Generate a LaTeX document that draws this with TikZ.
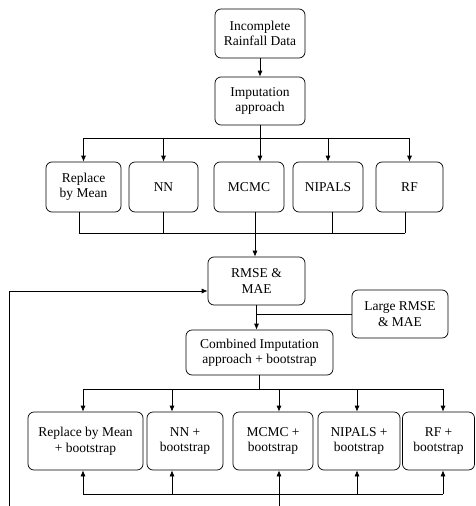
\documentclass[tikz,border=0pt]{standalone}
\usepackage{fontspec}
\setmainfont{Liberation Serif}
\usetikzlibrary{arrows.meta}

\begin{document}
\begin{tikzpicture}[x=1pt, y=-1pt, line width=0.7pt,
    box/.style={draw, rectangle, rounded corners=6pt, align=center, inner sep=2pt,
        font=\fontsize{13.5}{15.5}\selectfont},
    arr/.style={-{Latex[length=6pt,width=5pt]}}]
    \useasboundingbox (0,0) rectangle (475,506);
    % Nodes
    \node[box, minimum width=90pt, minimum height=49pt] (data) at (260,33.5) {Incomplete\\Rainfall Data};
    \node[box, minimum width=90pt, minimum height=48pt] (imp) at (260,101) {Imputation\\approach};

    \node[box, minimum width=75pt, minimum height=50pt] (mean) at (83.5,187) {Replace\\by Mean};
    \node[box, minimum width=69pt, minimum height=50pt] (nn) at (163.5,187) {NN};
    \node[box, minimum width=70pt, minimum height=50pt] (mcmc) at (249,187) {MCMC};
    \node[box, minimum width=70pt, minimum height=50pt] (nipals) at (328,187) {NIPALS};
    \node[box, minimum width=67pt, minimum height=50pt] (rf) at (409.5,187) {RF};

    \node[box, minimum width=97pt, minimum height=48pt] (rmse) at (256.5,281) {RMSE \&\\MAE};
    \node[box, minimum width=96pt, minimum height=48pt] (large) at (400,314) {Large RMSE\\\& MAE};
    \node[box, minimum width=147pt, minimum height=45pt] (comb) at (259.5,352.5) {Combined Imputation\\approach + bootstrap};

    \node[box, minimum width=115pt, minimum height=58pt] (mean2) at (85.5,441) {Replace by Mean\\+ bootstrap};
    \node[box, minimum width=76pt, minimum height=58pt] (nn2) at (185,441) {NN +\\bootstrap};
    \node[box, minimum width=80pt, minimum height=58pt] (mcmc2) at (273,441) {MCMC +\\bootstrap};
    \node[box, minimum width=82pt, minimum height=58pt] (nipals2) at (359,441) {NIPALS +\\bootstrap};
    \node[box, minimum width=72pt, minimum height=58pt] (rf2) at (438.5,441) {RF +\\bootstrap};

    % Junction points
    \coordinate (split1) at (260,138);
    \coordinate (merge1) at (255,233);
    \coordinate (split2) at (259.5,389);
    \coordinate (merge2) at (279,494);
    \coordinate (back) at (9,506);
    \coordinate (feed) at (279,506);

    % Arrows
    \draw[arr] (data) -- (imp);
    \draw (imp.south) -- (split1);
    \draw (split1 -| mean) -- (split1 -| rf);
    \foreach \n in {mean, nn, nipals, rf}
        \draw[arr] (split1 -| \n) -- (\n.north);
    \draw[arr] (split1) -- (split1 |- mcmc.north);

    \foreach \n/\dx in {mean/-4.5, nn/0, nipals/4, rf/-4.5}
        \draw ([xshift=\dx pt]\n.south) -- ([xshift=\dx pt]\n.south |- merge1);
    \draw ([xshift=-4.5pt]mean.south |- merge1) -- ([xshift=-4.5pt]rf.south |- merge1);
    \draw (merge1 |- mcmc.south) -- (merge1);
    \draw[arr] (merge1) -- (merge1 |- rmse.north);

    \draw[arr] (back) |- ([yshift=-10pt]rmse.west);
    \draw (large.west) -- (large.west -| rmse.south);
    \draw[arr] (rmse.south) -- (rmse.south |- comb.north);

    \draw (comb.south) -- (split2);
    \draw ([xshift=-2.5pt]mean2.north |- split2) -- ([xshift=4.5pt]rf2.north |- split2);
    \foreach \n/\dx in {mean2/-2.5, nn2/-13, mcmc2/6, nipals2/-2, rf2/4.5} {
        \draw[arr] ([xshift=\dx pt]\n.north |- split2) -- ([xshift=\dx pt]\n.north);
        \draw[arr] ([xshift=\dx pt]\n.south |- merge2) -- ([xshift=\dx pt]\n.south);
    }
    \draw ([xshift=-2.5pt]mean2.south |- merge2) -- ([xshift=4.5pt]rf2.south |- merge2);
    \draw (feed) -- (merge2);
\end{tikzpicture}
\end{document}
